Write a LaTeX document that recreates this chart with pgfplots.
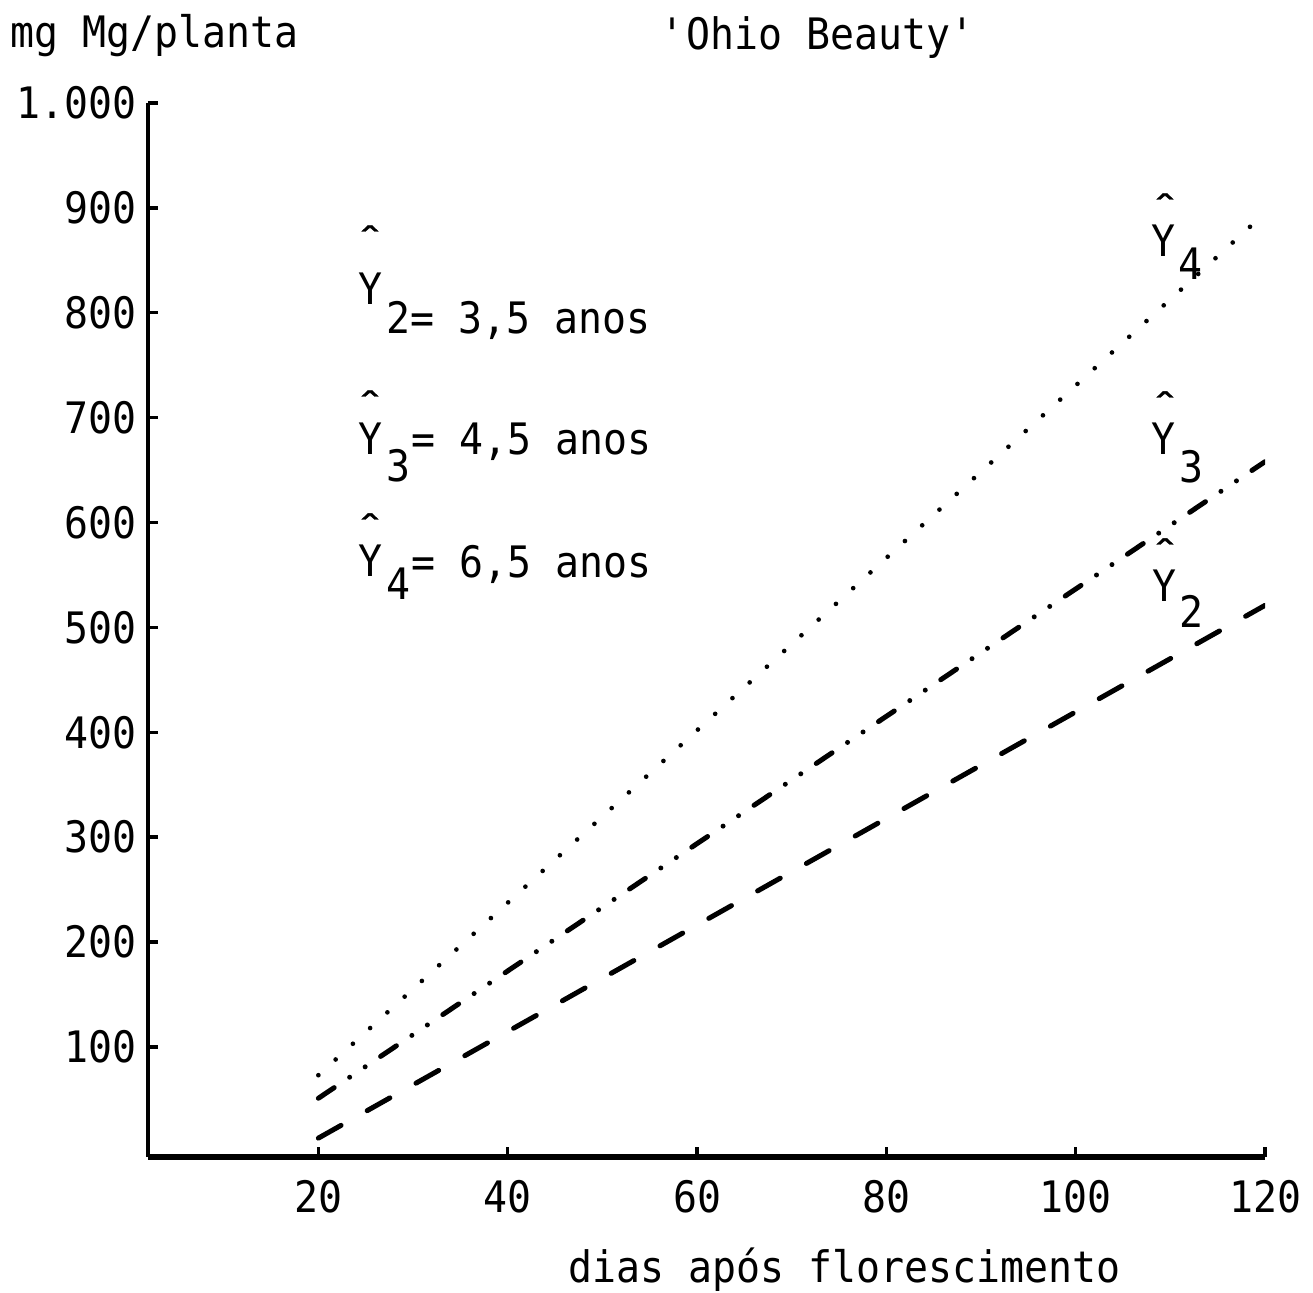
\documentclass[border=0pt]{standalone}
\usepackage{fontspec}
\setmainfont{DejaVu Sans Mono}[FakeStretch=0.92]
\newfontfamily\hatfont{DejaVu Sans Mono}[FakeStretch=1.6, FakeBold=1]
\usepackage{pgfplots}
\pgfplotsset{compat=1.18}
\begin{document}
\fontsize{13}{15}\selectfont
\begin{tikzpicture}
\useasboundingbox (-44.4pt,-40.8pt) rectangle (349.5pt,347.1pt);
\begin{axis}[
  at={(0pt,0pt)}, anchor=south west,
  scale only axis, width=335.1pt, height=316.2pt,
  xmin=2, xmax=120, ymin=-5, ymax=1000,
  axis lines=left, axis line style={-},
  x axis line style={line width=1.6pt},
  y axis line style={line width=1pt},
  xtick={20,40,60,80,100,120},
  xticklabels={20,40,60,80,100,120},
  ytick={100,200,300,400,500,600,700,800,900,1000},
  yticklabels={100,200,300,400,500,600,700,800,900,1.000},
  tick align=inside, major tick length=3pt,
  tick style={black, line width=1pt},
  xticklabel style={inner sep=0pt, anchor=north, yshift=-6.9pt},
  yticklabel style={inner sep=0pt, anchor=east, xshift=-3.3pt},
  every axis title/.style={at={(axis description cs:0.4584,1.0503)}, anchor=base west, inner sep=0pt},
  every axis x label/.style={at={(axis description cs:0.3760,-0.1195)}, anchor=base west, inner sep=0pt},
  every axis y label/.style={at={(axis description cs:-0.1235,1.0522)}, anchor=base west, inner sep=0pt},
  title={\textquotesingle Ohio Beauty\textquotesingle},
  xlabel={dias após florescimento},
  ylabel={mg Mg/planta},
]
% Y2 = 3,5 anos
\addplot[black, line width=1.5pt, line cap=round, dash pattern=on 7.8pt off 9pt] coordinates {(20,13) (120,521)};
% Y3 = 4,5 anos
\addplot[black, line width=1.5pt, line cap=round, dash pattern=on 5.7pt off 5.6pt on 0pt off 5.6pt on 0pt off 5.6pt] coordinates {(20,51) (120,658)};
% Y4 = 6,5 anos
\addplot[black, line width=1.4pt, line cap=round, dash pattern=on 0pt off 7pt] coordinates {(20,73) (120,895)};
\end{axis}
\begin{scope}[x=0.3pt, y=-0.3pt, shift={(-44.4pt,347.1pt)}]
  \tikzset{bw/.style={anchor=base west, inner sep=0pt}, bc/.style={anchor=base, inner sep=0pt},
           hat/.style={anchor=base, inner sep=0pt, font=\hatfont\fontsize{10}{10}\selectfont}}
  % legend rows
  \node[hat] at (370,252) {ˆ};
  \node[bc] at (370,305) {Y};
  \node[bw] at (386,334) {2= 3,5 anos};
  \node[hat] at (370,417) {ˆ};
  \node[bc] at (370,455) {Y};
  \node[bw] at (386,482) {3};
  \node[bw] at (411,455) {= 4,5 anos};
  \node[hat] at (370,540) {ˆ};
  \node[bc] at (370,577) {Y};
  \node[bw] at (386,600) {4};
  \node[bw] at (411,578) {= 6,5 anos};
  % line labels
  \node[hat] at (1165,220) {ˆ};
  \node[bc] at (1163,257) {Y};
  \node[bw] at (1178,280) {4};
  \node[hat] at (1165,418) {ˆ};
  \node[bc] at (1163,455) {Y};
  \node[bw] at (1179,483) {3};
  \node[hat] at (1165,565) {ˆ};
  \node[bc] at (1164,602) {Y};
  \node[bw] at (1179,628) {2};
\end{scope}
\end{tikzpicture}
\end{document}
